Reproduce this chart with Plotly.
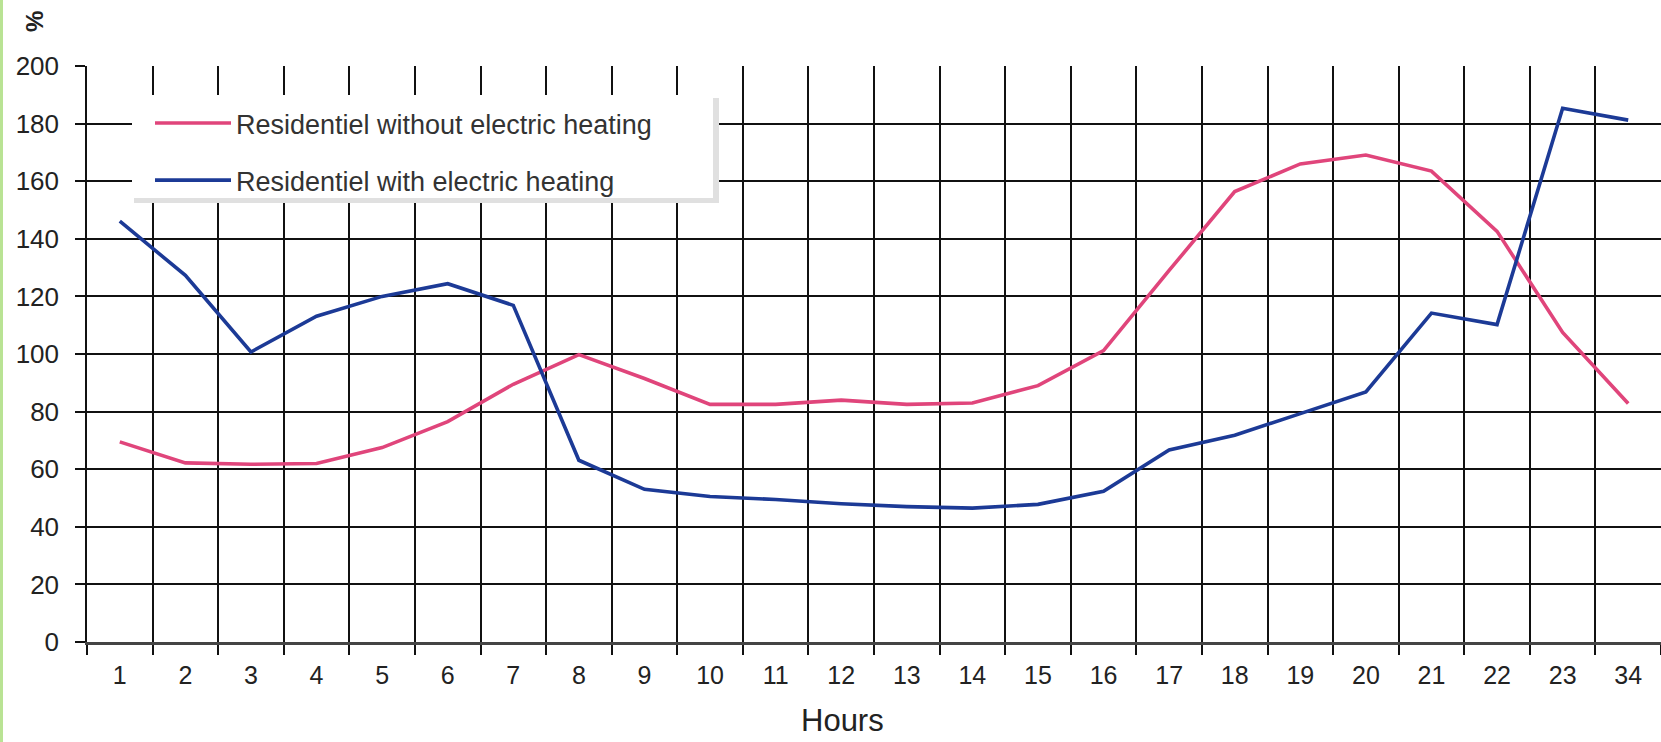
import plotly.graph_objects as go

hours = ["1", "2", "3", "4", "5", "6", "7", "8", "9", "10", "11", "12",
         "13", "14", "15", "16", "17", "18", "19", "20", "21", "22", "23", "34"]

without_heating = [69.5, 62.2, 61.7, 62.0, 67.5, 76.5, 89.5, 99.8, 91.5, 82.5, 82.5, 84.0,
                   82.5, 83.0, 89.0, 101.2, 129.0, 156.4, 166.0, 169.1, 163.5, 142.6, 107.5, 82.8]

with_heating = [146.1, 127.3, 100.7, 113.1, 120.0, 124.4, 116.9, 63.1, 53.0, 50.5, 49.5, 48.0,
                47.0, 46.5, 47.8, 52.3, 66.7, 71.8, 79.3, 86.8, 114.2, 110.2, 185.3, 181.2]

names = ["Residentiel without electric heating", "Residentiel with electric heating"]
colors = ["#E0457B", "#1C3A96"]

W, H = 1661, 742
ML, MR, MT, MB = 87, 0, 66, 100
PW, PH = W - ML - MR, H - MT - MB


def px_x(x):
    return (x - ML) / PW


def px_y(y):
    return (H - MB - y) / PH


fig = go.Figure()
for i, (name, vals) in enumerate(zip(names, [without_heating, with_heating])):
    fig.add_trace(go.Scatter(
        x=hours, y=vals, mode="lines", name=name,
        line=dict(color=colors[i], width=3.6),
        legendgroup=f"g{i}",
    ))

shapes = [
    # legend shadow
    dict(type="rect", xref="paper", yref="paper",
         x0=px_x(134), x1=px_x(719), y0=px_y(203), y1=px_y(98),
         fillcolor="#e0e0e0", line=dict(width=0), layer="above"),
    # legend box
    dict(type="rect", xref="paper", yref="paper",
         x0=px_x(132), x1=px_x(713), y0=px_y(198), y1=px_y(95),
         fillcolor="white", line=dict(width=0), layer="above"),
    # green left border of the picture
    dict(type="rect", xref="paper", yref="paper",
         x0=px_x(0), x1=px_x(3), y0=px_y(H), y1=px_y(0),
         fillcolor="#b9e394", line=dict(width=0), layer="above"),
]

fig.update_layout(
    width=W, height=H,
    margin=dict(l=ML, r=MR, t=MT, b=MB, pad=0),
    paper_bgcolor="white", plot_bgcolor="white",
    font=dict(family="Liberation Sans, Arial, sans-serif", color="#222222", size=25),
    showlegend=True,
    legend=dict(
        x=px_x(150), y=px_y(99), xanchor="left", yanchor="top",
        bgcolor="rgba(0,0,0,0)", borderwidth=0,
        font=dict(size=27, color="#333333"),
        tracegroupgap=19, itemwidth=76,
    ),
    shapes=shapes,
    xaxis=dict(
        type="category", categoryorder="array", categoryarray=hours,
        range=[-0.5, 23.5],
        tickson="boundaries", ticks="outside", ticklen=10, tickwidth=1.5, tickcolor="#111111",
        showgrid=True, gridcolor="#111111", gridwidth=1.5,
        showline=True, linecolor="#444444", linewidth=2.5,
        tickfont=dict(size=25, color="#222222"),
        ticklabelstandoff=9,
        zeroline=False,
    ),
    yaxis=dict(
        range=[0, 200], dtick=20, tick0=0,
        ticks="outside", ticklen=10, tickwidth=1.5, tickcolor="#111111",
        showgrid=True, gridcolor="#111111", gridwidth=1.5,
        showline=True, linecolor="#111111", linewidth=1.5,
        tickfont=dict(size=26, color="#222222"),
        ticklabelstandoff=11,
        zeroline=False,
    ),
    annotations=[
        dict(text="Hours", xref="paper", yref="paper", x=px_x(842), y=px_y(720),
             xanchor="center", yanchor="middle", showarrow=False,
             font=dict(size=31, color="#222222")),
        dict(text="<b>%</b>", xref="paper", yref="paper", x=px_x(34), y=px_y(22),
             xanchor="center", yanchor="middle", showarrow=False, textangle=-90,
             font=dict(size=24, color="#222222")),
    ],
)

fig.write_html("out.html")
